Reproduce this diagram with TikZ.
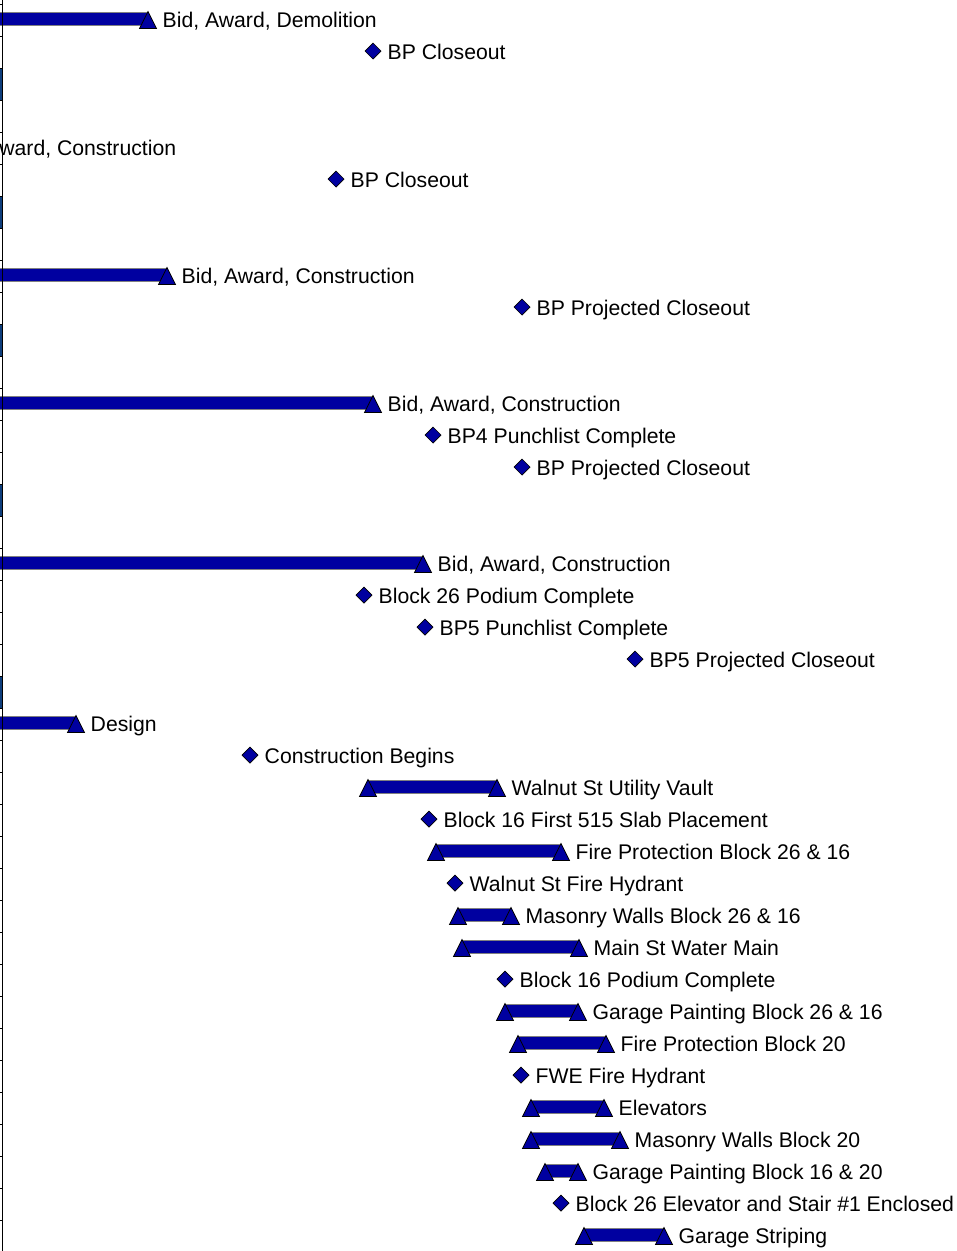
\documentclass[tikz,border=0pt]{standalone}
\usepackage{fontspec}
\setmainfont{Liberation Sans}
\definecolor{barblue}{RGB}{0,0,160}
\definecolor{sumblue}{RGB}{14,62,124}
\tikzset{
  taskbar/.style={fill=barblue,draw=gray,line width=0.7pt},
  tip/.style={fill=barblue,draw=black,line width=0.7pt,line join=miter},
  stone/.style={fill=barblue,draw=black,line width=0.7pt},
  lbl/.style={anchor=base west,inner sep=0pt,font=\fontsize{21.2}{24}\selectfont},
}
% row y (in px) from row number
\newcommand{\rowy}[1]{\pgfmathsetmacro{\yy}{20+32*#1}}
\newcommand{\tiptri}[2]{\filldraw[tip] (#1-8.5,#2+8.5) -- (#1,#2-8.5) -- (#1+8.5,#2+8.5) -- cycle;}
% bar: start, end, row, label
\newcommand{\task}[4]{%
  \rowy{#3}
  \filldraw[taskbar] (#1,\yy-8) rectangle (#2,\yy+5);
  \tiptri{#1}{\yy} \tiptri{#2}{\yy}
  \node[lbl] (t#3) at (#2+14.5,\yy+7.3) {#4};}
% bar coming in from the left edge: end, row, label
\newcommand{\opentask}[3]{%
  \rowy{#2}
  \filldraw[taskbar] (-5,\yy-8) rectangle (#1,\yy+5);
  \tiptri{#1}{\yy}
  \node[lbl] (t#2) at (#1+14.5,\yy+7.3) {#3};}
% milestone: x, row, label
\newcommand{\stone}[3]{%
  \rowy{#2}
  \filldraw[stone] (#1-8,\yy-1) -- (#1,\yy-9) -- (#1+8,\yy-1) -- (#1,\yy+7) -- cycle;
  \node[lbl] (m#2) at (#1+14.5,\yy+7.3) {#3};}

\begin{document}
\begin{tikzpicture}[x=1pt,y=-1pt]
  \useasboundingbox (0,0) rectangle (957,1251);
  \clip (0,0) rectangle (957,1251);

  % summary marks on the left edge
  \foreach \r in {2,6,10,15,21}
    \fill[sumblue] (0,4+32*\r) rectangle (2.5,36+32*\r);

  % first part
  \opentask{148}{0}{Bid, Award, Demolition}
  \stone{373}{1}{BP Closeout}
  \node[lbl] (t4) at (-57,155.3) {Bid, Award, Construction};
  \stone{336}{5}{BP Closeout}
  \opentask{167}{8}{Bid, Award, Construction}
  \stone{522}{9}{BP Projected Closeout}
  \opentask{373}{12}{Bid, Award, Construction}
  \stone{433}{13}{BP4 Punchlist Complete}
  \stone{522}{14}{BP Projected Closeout}
  \opentask{423}{17}{Bid, Award, Construction}
  \stone{364}{18}{Block 26 Podium Complete}
  \stone{425}{19}{BP5 Punchlist Complete}
  \stone{635}{20}{BP5 Projected Closeout}

  % second part
  \opentask{76}{22}{Design}
  \stone{250}{23}{Construction Begins}
  \task{368}{497}{24}{Walnut St Utility Vault}
  \stone{429}{25}{Block 16 First 515 Slab Placement}
  \task{436}{561}{26}{Fire Protection Block 26 \& 16}
  \stone{455}{27}{Walnut St Fire Hydrant}
  \task{458}{511}{28}{Masonry Walls Block 26 \& 16}
  \task{462}{579}{29}{Main St Water Main}
  \stone{505}{30}{Block 16 Podium Complete}
  \task{505}{578}{31}{Garage Painting Block 26 \& 16}
  \task{518}{606}{32}{Fire Protection Block 20}
  \stone{521}{33}{FWE Fire Hydrant}
  \task{531}{604}{34}{Elevators}
  \task{531}{620}{35}{Masonry Walls Block 20}
  \task{545}{578}{36}{Garage Painting Block 16 \& 20}
  \stone{561}{37}{Block 26 Elevator and Stair \#1 Enclosed}
  \task{584}{664}{38}{Garage Striping}

  % left axis with row ticks
  \draw[line width=1.2pt] (2.5,0) -- (2.5,1251);
  \foreach \k in {0,...,38}
    \draw[line width=0.8pt] (0,4+32*\k) -- (2.5,4+32*\k);
\end{tikzpicture}
\end{document}
